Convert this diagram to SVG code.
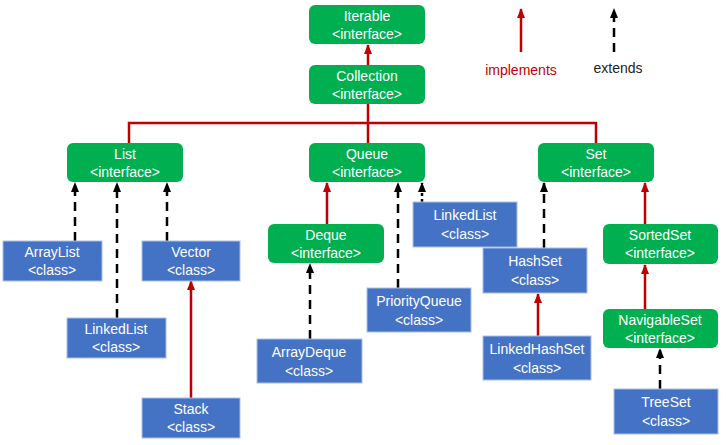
<svg xmlns="http://www.w3.org/2000/svg" width="726" height="445" viewBox="0 0 726 445">
<defs>
<style>
.g{fill:#00B050;}
.b{fill:#4472C4;stroke:#A9C0E8;stroke-width:1;}
.t{font-family:"Liberation Sans",Arial,sans-serif;font-size:14px;fill:#fff;text-anchor:middle;}
.imp{stroke:#C00000;stroke-width:2.5;fill:none;}
.ext{stroke:#000;stroke-width:2.5;fill:none;stroke-dasharray:9 6;}
.dot{stroke:#000;stroke-width:2.5;fill:none;stroke-dasharray:3 3;}
</style>
<marker id="ar" markerUnits="userSpaceOnUse" markerWidth="10" markerHeight="10" viewBox="0 0 10 10" refX="9" refY="5" orient="auto"><path d="M0,1 L10,5 L0,9 Z" fill="#C00000"/></marker>
<marker id="ab" markerUnits="userSpaceOnUse" markerWidth="10" markerHeight="10" viewBox="0 0 10 10" refX="9" refY="5" orient="auto"><path d="M0,1 L10,5 L0,9 Z" fill="#000"/></marker>
</defs>
<rect width="726" height="445" fill="#fff"/>
<g id="connectors">
<line class="imp" x1="368" y1="65" x2="368" y2="45" marker-end="url(#ar)"/>
<path class="imp" d="M368,104 V123 M129,143 V123 H596 V143 M368,123 V143"/>
<line class="ext" x1="75" y1="241" x2="75" y2="183" marker-end="url(#ab)"/>
<line class="ext" x1="117" y1="318" x2="117" y2="183" marker-end="url(#ab)"/>
<line class="ext" x1="167" y1="241" x2="167" y2="183" marker-end="url(#ab)"/>
<line class="imp" x1="191" y1="398" x2="191" y2="281" marker-end="url(#ar)"/>
<line class="imp" x1="327" y1="224" x2="327" y2="183" marker-end="url(#ar)"/>
<line class="ext" x1="398" y1="288" x2="398" y2="183" marker-end="url(#ab)"/>
<line class="dot" x1="422" y1="202" x2="422" y2="183" marker-end="url(#ab)"/>
<line class="ext" x1="310" y1="339" x2="310" y2="264" marker-end="url(#ab)"/>
<line class="ext" x1="544" y1="248" x2="544" y2="183" marker-end="url(#ab)"/>
<line class="imp" x1="645" y1="224" x2="645" y2="183" marker-end="url(#ar)"/>
<line class="imp" x1="645" y1="309" x2="645" y2="265" marker-end="url(#ar)"/>
<line class="imp" x1="538" y1="336" x2="538" y2="294" marker-end="url(#ar)"/>
<line class="ext" x1="660" y1="389" x2="660" y2="349" marker-end="url(#ab)"/>
</g>
<g id="legend">
<line class="imp" x1="521" y1="52" x2="521" y2="9" marker-end="url(#ar)"/>
<line class="ext" x1="614" y1="52" x2="614" y2="9" marker-end="url(#ab)"/>
<text x="521" y="75" font-family="Liberation Sans,Arial,sans-serif" font-size="14" fill="#C00000" text-anchor="middle">implements</text>
<text x="618" y="73" font-family="Liberation Sans,Arial,sans-serif" font-size="14" fill="#222" text-anchor="middle">extends</text>
</g>
<g id="Iterable"><rect class="g" x="309" y="5" width="116" height="39" rx="6"/><text class="t" x="367" y="21">Iterable</text><text class="t" x="367" y="39">&lt;interface&gt;</text></g>
<g id="Collection"><rect class="g" x="309" y="65" width="116" height="39" rx="6"/><text class="t" x="367" y="81">Collection</text><text class="t" x="367" y="99">&lt;interface&gt;</text></g>
<g id="List"><rect class="g" x="67" y="143" width="116" height="39" rx="6"/><text class="t" x="125" y="159">List</text><text class="t" x="125" y="177">&lt;interface&gt;</text></g>
<g id="Queue"><rect class="g" x="309" y="143" width="116" height="39" rx="6"/><text class="t" x="367" y="159">Queue</text><text class="t" x="367" y="177">&lt;interface&gt;</text></g>
<g id="Set"><rect class="g" x="538" y="143" width="116" height="39" rx="6"/><text class="t" x="596" y="159">Set</text><text class="t" x="596" y="177">&lt;interface&gt;</text></g>
<g id="ArrayList"><rect class="b" x="3" y="241" width="99" height="40"/><text class="t" x="52" y="257">ArrayList</text><text class="t" x="52" y="275">&lt;class&gt;</text></g>
<g id="Vector"><rect class="b" x="142" y="241" width="98" height="40"/><text class="t" x="191" y="257">Vector</text><text class="t" x="191" y="275">&lt;class&gt;</text></g>
<g id="LinkedList1"><rect class="b" x="67" y="318" width="99" height="40"/><text class="t" x="116" y="334">LinkedList</text><text class="t" x="116" y="352">&lt;class&gt;</text></g>
<g id="Stack"><rect class="b" x="142" y="398" width="98" height="40"/><text class="t" x="191" y="414">Stack</text><text class="t" x="191" y="432">&lt;class&gt;</text></g>
<g id="Deque"><rect class="g" x="268" y="224" width="116" height="39" rx="6"/><text class="t" x="326" y="240">Deque</text><text class="t" x="326" y="258">&lt;interface&gt;</text></g>
<g id="LinkedList2"><rect class="b" x="413" y="202" width="104" height="45"/><text class="t" x="465" y="220">LinkedList</text><text class="t" x="465" y="239">&lt;class&gt;</text></g>
<g id="PriorityQueue"><rect class="b" x="367" y="288" width="104" height="44"/><text class="t" x="419" y="306">PriorityQueue</text><text class="t" x="419" y="325">&lt;class&gt;</text></g>
<g id="ArrayDeque"><rect class="b" x="257" y="339" width="105" height="44"/><text class="t" x="309" y="357">ArrayDeque</text><text class="t" x="309" y="376">&lt;class&gt;</text></g>
<g id="HashSet"><rect class="b" x="483" y="248" width="104" height="45"/><text class="t" x="535" y="266">HashSet</text><text class="t" x="535" y="285">&lt;class&gt;</text></g>
<g id="LinkedHashSet"><rect class="b" x="483" y="336" width="108" height="44"/><text class="t" x="537" y="354">LinkedHashSet</text><text class="t" x="537" y="373">&lt;class&gt;</text></g>
<g id="SortedSet"><rect class="g" x="603" y="224" width="115" height="40" rx="6"/><text class="t" x="660" y="240">SortedSet</text><text class="t" x="660" y="258">&lt;interface&gt;</text></g>
<g id="NavigableSet"><rect class="g" x="603" y="309" width="115" height="39" rx="6"/><text class="t" x="660" y="325">NavigableSet</text><text class="t" x="660" y="343">&lt;interface&gt;</text></g>
<g id="TreeSet"><rect class="b" x="614" y="389" width="104" height="45"/><text class="t" x="666" y="407">TreeSet</text><text class="t" x="666" y="426">&lt;class&gt;</text></g>
</svg>
